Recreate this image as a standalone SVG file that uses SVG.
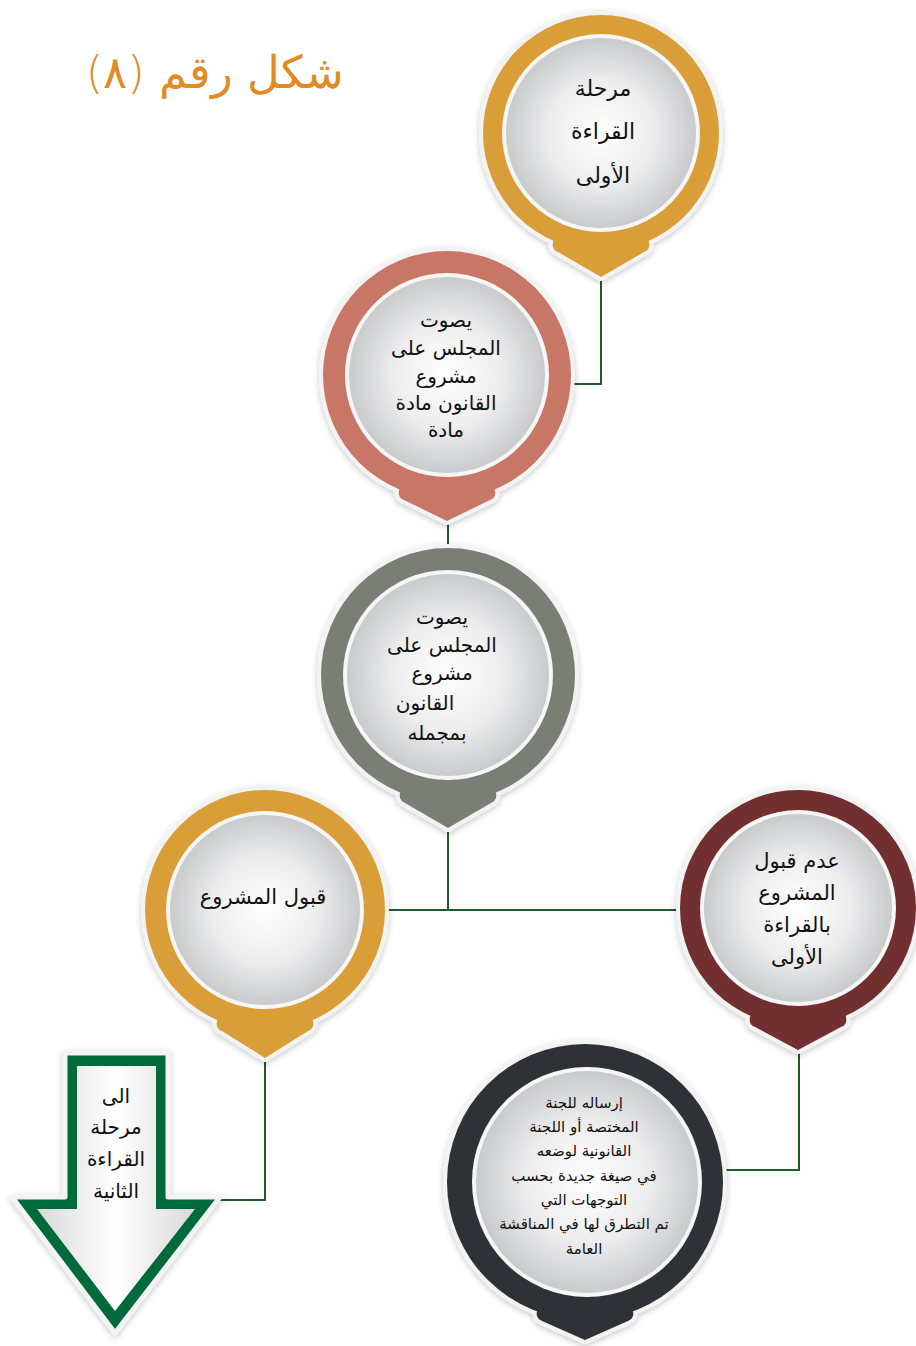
<svg xmlns="http://www.w3.org/2000/svg" width="916" height="1346" viewBox="0 0 916 1346">
<style>
.rim{fill:#F3F3F3;stroke:#F3F3F3;stroke-width:8;stroke-linejoin:round}
.in{fill:url(#ig)}
.inb{fill:#F6F6F6}
.t{font-family:"DejaVu Sans",sans-serif;font-size:20px;fill:#111;text-anchor:middle;direction:rtl}
.tl{font-size:22px}
.tm{font-size:21px}
.ts{font-family:"DejaVu Sans",sans-serif;font-size:15px;fill:#111;text-anchor:middle;direction:rtl}
.con{fill:none;stroke:#1F5A30;stroke-width:2}
</style>
<defs>
<radialGradient id="ig" cx="0.5" cy="0.5" r="0.5">
<stop offset="0" stop-color="#FFFFFF"/>
<stop offset="0.55" stop-color="#EDEDEE"/>
<stop offset="1" stop-color="#C9CACC"/>
</radialGradient>
<linearGradient id="ag" x1="0" y1="0" x2="1" y2="0">
<stop offset="0" stop-color="#D9D9D9"/>
<stop offset="0.5" stop-color="#FFFFFF"/>
<stop offset="1" stop-color="#D9D9D9"/>
</linearGradient>
<filter id="sh" x="-20%" y="-20%" width="140%" height="140%">
<feDropShadow dx="0" dy="2" stdDeviation="3" flood-color="#000" flood-opacity="0.22"/>
</filter>
</defs>
<rect width="916" height="1346" fill="#FFFFFF"/>

<text id="title" x="215" y="88" font-family="DejaVu Sans,sans-serif" font-size="45" font-weight="200" fill="#E08B24" text-anchor="middle" direction="rtl">شكل رقم (٨)</text>

<g id="connectors">
<path class="con" d="M601 278 V384 H571"/>
<path class="con" d="M448 521 V548"/>
<path class="con" d="M448 829 V910"/>
<path class="con" d="M385 910 H680"/>
<path class="con" d="M265 1059 V1200 H218"/>
<path class="con" d="M799 1051 V1170 H724"/>
</g>

<g id="n1">
<g filter="url(#sh)"><circle class="rim" cx="601" cy="133" r="118"/><path class="rim" d="M554 239 L648 239 Q652 249 644 252 L601 277 L558 252 Q550 249 554 239 Z"/></g>
<circle cx="601" cy="133" r="118" fill="#DA9E38"/>
<path d="M554 239 L648 239 Q652 249 644 252 L601 277 L558 252 Q550 249 554 239 Z" fill="#DA9E38"/>
<circle class="inb" cx="601" cy="133" r="99"/>
<circle class="in" cx="601" cy="133" r="95"/>
<text class="t tl" x="603" y="96">مرحلة</text>
<text class="t tl" x="603" y="139">القراءة</text>
<text class="t tl" x="603" y="183">الأولى</text>
</g>

<g id="n2">
<g filter="url(#sh)"><circle class="rim" cx="447" cy="375" r="124"/><path class="rim" d="M400 487 L494 487 Q498 497 490 500 L447 521 L404 500 Q396 497 400 487 Z"/></g>
<circle cx="447" cy="375" r="124" fill="#C87766"/>
<path d="M400 487 L494 487 Q498 497 490 500 L447 521 L404 500 Q396 497 400 487 Z" fill="#C87766"/>
<circle class="inb" cx="447" cy="375" r="102"/>
<circle class="in" cx="447" cy="375" r="98"/>
<text class="t" x="446" y="327">يصوت</text>
<text class="t" x="446" y="355">المجلس على</text>
<text class="t" x="446" y="383">مشروع</text>
<text class="t" x="446" y="410">القانون مادة</text>
<text class="t" x="446" y="437">مادة</text>
</g>

<g id="n3">
<g filter="url(#sh)"><circle class="rim" cx="448" cy="675" r="127"/><path class="rim" d="M401 790 L495 790 Q499 800 491 803 L448 828 L405 803 Q397 800 401 790 Z"/></g>
<circle cx="448" cy="675" r="127" fill="#7B7E75"/>
<path d="M401 790 L495 790 Q499 800 491 803 L448 828 L405 803 Q397 800 401 790 Z" fill="#7B7E75"/>
<circle class="inb" cx="448" cy="675" r="105"/>
<circle class="in" cx="448" cy="675" r="101"/>
<text class="t" x="442" y="624">يصوت</text>
<text class="t" x="442" y="652">المجلس على</text>
<text class="t" x="442" y="680">مشروع</text>
<text class="t" x="425" y="710">القانون</text>
<text class="t" x="437" y="740">بمجمله</text>
</g>

<g id="n4">
<g filter="url(#sh)"><circle class="rim" cx="265" cy="910" r="120"/><path class="rim" d="M218 1018 L312 1018 Q316 1028 308 1031 L265 1058 L222 1031 Q214 1028 218 1018 Z"/></g>
<circle cx="265" cy="910" r="120" fill="#DA9E38"/>
<path d="M218 1018 L312 1018 Q316 1028 308 1031 L265 1058 L222 1031 Q214 1028 218 1018 Z" fill="#DA9E38"/>
<circle class="inb" cx="265" cy="910" r="99"/>
<circle class="in" cx="265" cy="910" r="95"/>
<text class="t tm" x="263" y="904">قبول المشروع</text>
</g>

<g id="n5">
<g filter="url(#sh)"><circle class="rim" cx="798" cy="908" r="118"/><path class="rim" d="M751 1014 L845 1014 Q849 1024 841 1027 L798 1050 L755 1027 Q747 1024 751 1014 Z"/></g>
<circle cx="798" cy="908" r="118" fill="#722F30"/>
<path d="M751 1014 L845 1014 Q849 1024 841 1027 L798 1050 L755 1027 Q747 1024 751 1014 Z" fill="#722F30"/>
<circle class="inb" cx="798" cy="908" r="98"/>
<circle class="in" cx="798" cy="908" r="94"/>
<text class="t tm" x="797" y="868">عدم قبول</text>
<text class="t tm" x="797" y="900">المشروع</text>
<text class="t tm" x="797" y="932">بالقراءة</text>
<text class="t tm" x="797" y="964">الأولى</text>
</g>

<g id="n6">
<g filter="url(#sh)"><circle class="rim" cx="585" cy="1182" r="138"/><path class="rim" d="M538 1308 L632 1308 Q636 1318 628 1321 L585 1340 L542 1321 Q534 1318 538 1308 Z"/></g>
<circle cx="585" cy="1182" r="138" fill="#2E3237"/>
<path d="M538 1308 L632 1308 Q636 1318 628 1321 L585 1340 L542 1321 Q534 1318 538 1308 Z" fill="#2E3237"/>
<circle class="inb" cx="587" cy="1182" r="115"/>
<circle class="in" cx="587" cy="1182" r="111"/>
<text class="ts" x="584" y="1108">إرساله للجنة</text>
<text class="ts" x="584" y="1132">المختصة أو اللجنة</text>
<text class="ts" x="584" y="1156">القانونية لوضعه</text>
<text class="ts" x="584" y="1181">في صيغة جديدة بحسب</text>
<text class="ts" x="584" y="1205">التوجهات التي</text>
<text class="ts" x="584" y="1229">تم التطرق لها في المناقشة</text>
<text class="ts" x="584" y="1254">العامة</text>
</g>

<g id="n7">
<polygon points="65,1053 168,1053 168,1197 220,1197 115,1333 12,1197 65,1197" fill="#006B3A" stroke="#F3F3F3" stroke-width="5" stroke-linejoin="round" filter="url(#sh)"/>
<polygon points="77,1066 156,1066 156,1209 195,1209 115,1311 37,1209 77,1209" fill="url(#ag)"/>
<text class="t" x="116" y="1103">الى</text>
<text class="t" x="116" y="1134">مرحلة</text>
<text class="t" x="116" y="1166">القراءة</text>
<text class="t" x="116" y="1198">الثانية</text>
</g>
</svg>
